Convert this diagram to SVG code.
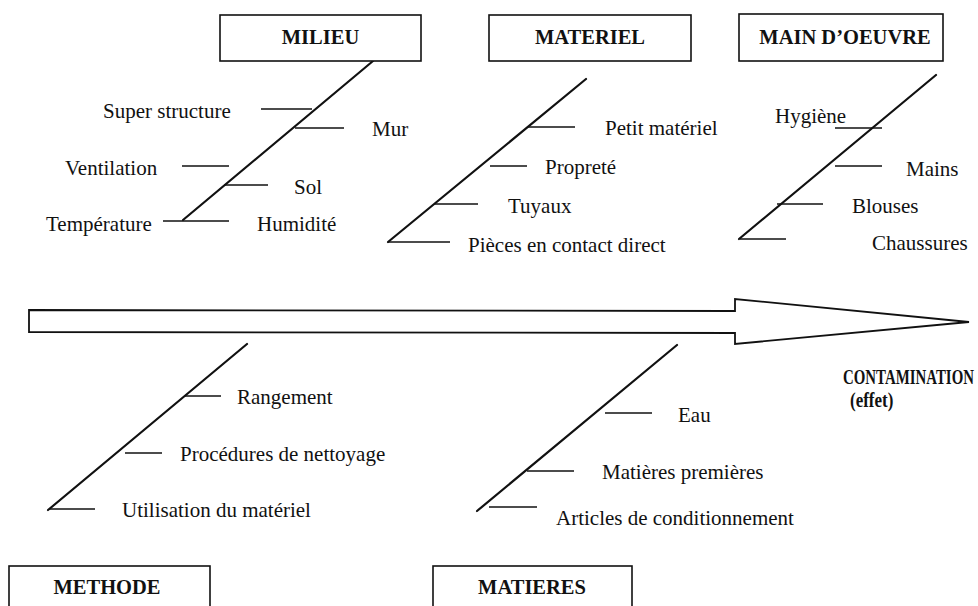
<svg xmlns="http://www.w3.org/2000/svg" width="978" height="606" viewBox="0 0 978 606">
<style>
.box{fill:#fff;stroke:#111;stroke-width:1.6}
.title{font-family:'Liberation Serif','Times New Roman',serif;font-weight:bold;font-size:20.5px;fill:#111;text-anchor:middle}
.lbl{font-family:'Liberation Serif','Times New Roman',serif;font-size:21px;fill:#111}
.bone{stroke:#111;stroke-width:2.2;fill:none;stroke-linecap:round}
.sub{stroke:#111;stroke-width:1.3;fill:none}
.arrow{fill:#fff;stroke:#111;stroke-width:1.8;stroke-linejoin:miter}
.effect{font-family:'Liberation Serif','Times New Roman',serif;font-weight:bold;font-size:20px;fill:#111}
</style>
<rect width="978" height="606" fill="#fff"/>

<g id="spine">
<polygon class="arrow" points="29,310 735,311 735,299 969,322 735,344 735,333 29,332"/>
</g>

<g id="effet">
<text class="effect" transform="translate(843,384) scale(0.745,1)" x="0" y="0">CONTAMINATION</text>
<text class="effect" transform="translate(850,407) scale(0.85,1)" x="0" y="0">(effet)</text>
</g>

<g id="connectors">
<line class="bone" x1="183" y1="220" x2="373" y2="61"/>
<line class="bone" x1="388" y1="242" x2="586" y2="79"/>
<line class="bone" x1="739" y1="239" x2="936" y2="75"/>
<line class="bone" x1="48" y1="510" x2="247" y2="344"/>
<line class="bone" x1="477" y1="511" x2="677" y2="345"/>
</g>

<g id="milieu">
<rect class="box" x="220" y="15" width="201" height="46"/>
<text class="title" x="320.5" y="44">MILIEU</text>
<line class="sub" x1="261" y1="109" x2="312" y2="109"/>
<text class="lbl" x="103" y="118">Super structure</text>
<line class="sub" x1="295" y1="128" x2="344" y2="128"/>
<text class="lbl" x="372" y="136">Mur</text>
<line class="sub" x1="182" y1="166" x2="229" y2="166"/>
<text class="lbl" x="65" y="175">Ventilation</text>
<line class="sub" x1="224" y1="185" x2="268" y2="185"/>
<text class="lbl" x="294" y="194">Sol</text>
<line class="sub" x1="163" y1="221" x2="229" y2="221"/>
<text class="lbl" x="46" y="231">Température</text>
<text class="lbl" x="257" y="231">Humidité</text>
</g>

<g id="materiel">
<rect class="box" x="489" y="15" width="202" height="46"/>
<text class="title" x="590" y="44">MATERIEL</text>
<line class="sub" x1="528" y1="127" x2="575" y2="127"/>
<text class="lbl" x="605" y="135">Petit matériel</text>
<line class="sub" x1="490" y1="166" x2="527" y2="166"/>
<text class="lbl" x="545" y="174">Propreté</text>
<line class="sub" x1="434" y1="204" x2="478" y2="204"/>
<text class="lbl" x="508" y="213">Tuyaux</text>
<line class="sub" x1="388" y1="242" x2="450" y2="242"/>
<text class="lbl" x="468" y="252">Pièces en contact direct</text>
</g>

<g id="main-oeuvre">
<rect class="box" x="739" y="14" width="204" height="47"/>
<text class="title" x="845" y="44">MAIN D’OEUVRE</text>
<line class="sub" x1="835" y1="128" x2="882" y2="128"/>
<text class="lbl" x="775" y="123">Hygiène</text>
<line class="sub" x1="835" y1="166" x2="882" y2="166"/>
<text class="lbl" x="906" y="176">Mains</text>
<line class="sub" x1="777" y1="204" x2="823" y2="204"/>
<text class="lbl" x="852" y="213">Blouses</text>
<line class="sub" x1="740" y1="239" x2="786" y2="239"/>
<text class="lbl" x="872" y="250">Chaussures</text>
</g>

<g id="methode">
<rect class="box" x="9" y="566" width="201" height="60"/>
<text class="title" x="107" y="594">METHODE</text>
<line class="sub" x1="185" y1="396" x2="221" y2="396"/>
<text class="lbl" x="237" y="404">Rangement</text>
<line class="sub" x1="125" y1="453" x2="162" y2="453"/>
<text class="lbl" x="180" y="461">Procédures de nettoyage</text>
<line class="sub" x1="49" y1="509" x2="95" y2="509"/>
<text class="lbl" x="122" y="517">Utilisation du matériel</text>
</g>

<g id="matieres">
<rect class="box" x="433" y="566" width="199" height="60"/>
<text class="title" x="532" y="594">MATIERES</text>
<line class="sub" x1="605" y1="413" x2="652" y2="413"/>
<text class="lbl" x="678" y="422">Eau</text>
<line class="sub" x1="527" y1="471" x2="574" y2="471"/>
<text class="lbl" x="602" y="479">Matières premières</text>
<line class="sub" x1="489" y1="507" x2="537" y2="507"/>
<text class="lbl" x="556" y="525">Articles de conditionnement</text>
</g>
</svg>
